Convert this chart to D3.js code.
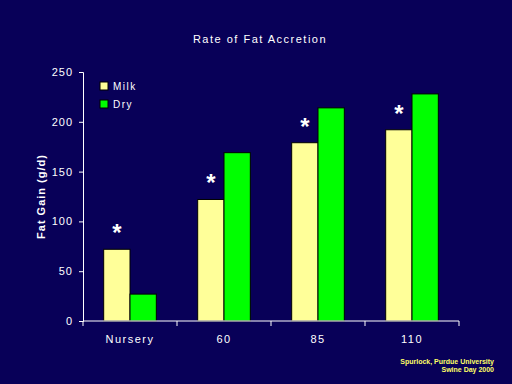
<!DOCTYPE html>
<html>
<head>
  <meta charset="utf-8">
  <style>
    html, body { margin: 0; padding: 0; background: #080058; }
    svg text { font-family: "Liberation Sans", Arial, sans-serif; }
  </style>
  <script src="https://cdn.jsdelivr.net/npm/d3@7"></script>
</head>
<body>
  <div id="chart"></div>
  <script>
    const categories = ["Nursery", "60", "85", "110"];
    const series = ["Milk", "Dry"];
    const milk = [72, 122, 179, 192];
    const dry = [27, 169, 214, 228];
    const significant = [true, true, true, true]; // asterisk over the milk bar
    const yTicks = [0, 50, 100, 150, 200, 250];

    const colors = { Milk: "#ffff99", Dry: "#00ff00" };

    const svg = d3.select("#chart").append("svg")
      .attr("width", 512)
      .attr("height", 384);

    svg.append("rect")
      .attr("width", 512).attr("height", 384)
      .attr("fill", "#080058");

    const margin = { top: 72, left: 83, right: 53, bottom: 63 },
          width = 512 - margin.left - margin.right,
          height = 384 - margin.top - margin.bottom;

    const g = svg.append("g")
      .attr("transform", `translate(${margin.left},${margin.top})`);

    const x = d3.scaleBand()
      .domain(categories)
      .range([0, width]);

    const x1 = d3.scaleBand()
      .domain(series)
      .range([x.bandwidth() * 0.22, x.bandwidth() * 0.78]);

    const y = d3.scaleLinear()
      .domain([0, 250])
      .range([height, 0]);

    // bars
    const rows = categories.map((c, i) => ({ cat: c, Milk: milk[i], Dry: dry[i], sig: significant[i] }));

    const groups = g.selectAll(".grp")
      .data(rows)
      .enter().append("g")
      .attr("transform", d => `translate(${x(d.cat)},0)`);

    groups.selectAll("rect")
      .data(d => series.map(s => ({ key: s, value: d[s] })))
      .enter().append("rect")
      .attr("x", d => x1(d.key))
      .attr("y", d => y(d.value))
      .attr("width", x1.bandwidth())
      .attr("height", d => height - y(d.value))
      .attr("fill", d => colors[d.key])
      .attr("stroke", "#000")
      .attr("stroke-width", 1);

    groups.filter(d => d.sig).append("text")
      .attr("x", x1("Milk") + x1.bandwidth() / 2)
      .attr("y", d => y(d.Milk) - 8)
      .attr("text-anchor", "middle")
      .attr("fill", "#fff")
      .style("font-size", "24px")
      .style("font-weight", "bold")
      .text("*");

    // y axis
    const yAxis = g.append("g")
      .call(d3.axisLeft(y).tickValues(yTicks).tickSize(4).tickPadding(6));
    yAxis.select(".domain").attr("stroke", "#fff");
    yAxis.selectAll("line").attr("stroke", "#fff");
    yAxis.selectAll("text")
      .attr("fill", "#fff")
      .style("font-size", "11px")
      .style("letter-spacing", "1px")
      .style("font-family", "'Liberation Sans', Arial, sans-serif");

    // x axis with ticks between categories
    const xAxis = g.append("g")
      .attr("transform", `translate(0,${height})`);
    xAxis.append("line")
      .attr("x1", 0).attr("x2", width)
      .attr("stroke", "#fff");
    xAxis.selectAll(".xt")
      .data(categories.concat(["end"]))
      .enter().append("line")
      .attr("x1", (d, i) => i * x.step())
      .attr("x2", (d, i) => i * x.step())
      .attr("y1", 0).attr("y2", 5)
      .attr("stroke", "#fff");
    xAxis.selectAll(".xl")
      .data(categories)
      .enter().append("text")
      .attr("x", d => x(d) + x.bandwidth() / 2)
      .attr("y", 22)
      .attr("text-anchor", "middle")
      .attr("fill", "#fff")
      .style("font-size", "11px")
      .style("letter-spacing", "1.5px")
      .text(d => d);

    // y label
    svg.append("text")
      .attr("transform", `translate(45,${margin.top + height / 2}) rotate(-90)`)
      .attr("text-anchor", "middle")
      .attr("fill", "#fff")
      .style("font-size", "11px")
      .style("font-weight", "bold")
      .style("letter-spacing", "1px")
      .text("Fat Gain (g/d)");

    // title
    svg.append("text")
      .attr("x", 260)
      .attr("y", 43)
      .attr("text-anchor", "middle")
      .attr("fill", "#fff")
      .style("font-size", "11px")
      .style("letter-spacing", "1.5px")
      .text("Rate of Fat Accretion");

    // legend
    const legend = g.selectAll(".leg")
      .data(series)
      .enter().append("g")
      .attr("transform", (d, i) => `translate(17,${10 + i * 18})`);
    legend.append("rect")
      .attr("width", 8).attr("height", 8)
      .attr("fill", d => colors[d])
      .attr("stroke", "#000");
    legend.append("text")
      .attr("x", 13).attr("y", 8)
      .attr("fill", "#fff")
      .style("font-size", "10px")
      .style("letter-spacing", "1.5px")
      .text(d => d);

    // source note
    const note = svg.append("text")
      .attr("text-anchor", "end")
      .attr("fill", "#ffff66")
      .style("font-size", "7px")
      .style("font-weight", "bold");
    note.append("tspan").attr("x", 494).attr("y", 364).text("Spurlock, Purdue University");
    note.append("tspan").attr("x", 494).attr("y", 372).text("Swine Day 2000");
  </script>
</body>
</html>
